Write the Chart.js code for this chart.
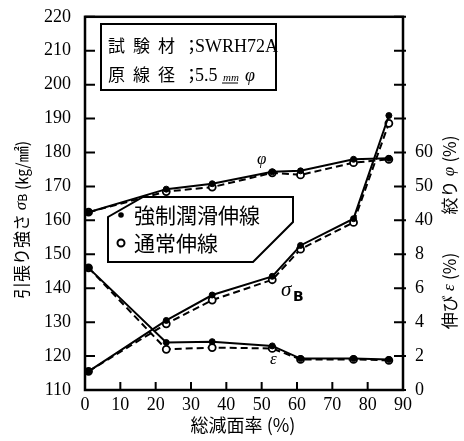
<!DOCTYPE html>
<html>
<head>
<meta charset="utf-8">
<script src="https://cdn.jsdelivr.net/npm/chart.js@4.4.1/dist/chart.umd.min.js"></script>
<style>
  html, body { margin: 0; padding: 0; background: #fff; }
</style>
</head>
<body>
<canvas id="chart" width="464" height="441"></canvas>
<script>
// values (total reduction of area, %)
const reduction = [1, 23, 36, 53, 61, 76, 86];
// tensile strength sigma_B (kg/mm2)
const sigmaForced = [115.5, 130.5, 138, 143.5, 152.6, 160.5, 190.9];
const sigmaNormal = [115.5, 129.5, 136.5, 142.5, 151.5, 159.4, 188.6];
// reduction of area phi (%)
const phiForced = [42.4, 49.2, 50.8, 54.3, 54.6, 58, 58.3];
const phiNormal = [42.4, 48.5, 49.8, 54, 53.4, 57, 58];
// elongation epsilon (%)
const epsForced = [7.2, 2.8, 2.85, 2.6, 1.85, 1.85, 1.8];
const epsNormal = [7.2, 2.4, 2.5, 2.45, 1.8, 1.8, 1.75];

// right axis: same grid as the left one, labels for eps (0..8) and phi (40..60)
const rightTickLabels = { 110: '0', 120: '2', 130: '4', 140: '6', 150: '8', 160: '40', 170: '50', 180: '60' };

const CJK = '"Noto Sans CJK JP", "Noto Sans", sans-serif';
const SERIF = '"Liberation Serif", "DejaVu Serif", serif';

function pts(xs, ys) {
  return xs.map((x, i) => ({ x: x, y: ys[i] }));
}

function solid(data, axis) {
  return {
    data: pts(reduction, data), yAxisID: axis,
    borderColor: '#000', borderWidth: 2, pointRadius: 3,
    pointBackgroundColor: '#000', pointBorderColor: '#000', pointBorderWidth: 1,
    tension: 0
  };
}
function dashed(data, axis) {
  return {
    data: pts(reduction, data), yAxisID: axis,
    borderColor: '#000', borderWidth: 2, borderDash: [7, 4], pointRadius: 3.5,
    pointBackgroundColor: '#fff', pointBorderColor: '#000', pointBorderWidth: 1.8,
    tension: 0
  };
}

// draws text pieces one after another, centred on (x, y)
function runs(ctx, parts, x, y) {
  let total = 0;
  parts.forEach(p => { ctx.font = p.font; p.w = ctx.measureText(p.t).width; total += p.w; });
  let cx = x - total / 2;
  ctx.textAlign = 'left';
  ctx.textBaseline = 'middle';
  parts.forEach(p => { ctx.font = p.font; ctx.fillText(p.t, cx, y + (p.dy || 0)); cx += p.w; });
}

const decor = {
  id: 'decor',
  afterDraw(chart) {
    const ctx = chart.ctx;
    const a = chart.chartArea;
    const sx = chart.scales.x, sy = chart.scales.y, sr = chart.scales.yR;
    ctx.save();
    ctx.strokeStyle = '#000';
    ctx.fillStyle = '#000';

    // frame
    ctx.lineWidth = 2.5;
    ctx.strokeRect(a.left, a.top, a.right - a.left, a.bottom - a.top);

    // inward ticks
    ctx.lineWidth = 2;
    ctx.beginPath();
    sy.ticks.forEach(t => {
      const p = sy.getPixelForValue(t.value);
      ctx.moveTo(a.left, p); ctx.lineTo(a.left + 10, p);
    });
    sr.ticks.forEach(t => {
      const p = sr.getPixelForValue(t.value);
      ctx.moveTo(a.right - 9, p); ctx.lineTo(a.right + 3, p);
    });
    sx.ticks.forEach(t => {
      const p = sx.getPixelForValue(t.value);
      ctx.moveTo(p, a.bottom); ctx.lineTo(p, a.bottom - 8);
    });
    ctx.stroke();

    // specimen box
    ctx.lineWidth = 2;
    ctx.strokeRect(101, 24, 175, 66);
    ctx.textBaseline = 'middle';
    ctx.textAlign = 'left';
    ctx.font = '17px ' + CJK;
    ['試', '験', '材', '；'].forEach((c, i) => ctx.fillText(c, 108 + i * 25, 46));
    ['原', '線', '径', '；'].forEach((c, i) => ctx.fillText(c, 108 + i * 25, 75));
    ctx.font = '18px ' + SERIF;
    ctx.fillText('SWRH72A', 195, 47);
    ctx.fillText('5.5', 195, 76);
    ctx.font = 'italic 11px ' + SERIF;
    ctx.fillText('mm', 223, 78);
    ctx.lineWidth = 1;
    ctx.beginPath(); ctx.moveTo(222, 83); ctx.lineTo(238, 83); ctx.stroke();
    ctx.font = 'italic 18px ' + SERIF;
    ctx.fillText('φ', 245, 76);

    // legend box
    ctx.lineWidth = 2;
    ctx.beginPath();
    ctx.moveTo(143, 197); ctx.lineTo(293, 197); ctx.lineTo(293, 222);
    ctx.lineTo(253, 262); ctx.lineTo(108, 262); ctx.lineTo(108, 217);
    ctx.closePath();
    ctx.fillStyle = '#fff';
    ctx.fill();
    ctx.stroke();
    ctx.fillStyle = '#000';
    ctx.beginPath(); ctx.arc(121, 215, 2.8, 0, Math.PI * 2); ctx.fill();
    ctx.beginPath(); ctx.arc(121, 243, 3.5, 0, Math.PI * 2); ctx.stroke();
    ctx.font = '21px ' + CJK;
    ctx.fillText('強制潤滑伸線', 134, 215);
    ctx.fillText('通常伸線', 134, 243);

    // curve names
    ctx.font = 'italic 17px ' + SERIF;
    ctx.fillText('φ', 257, 160);
    ctx.fillText('ε', 270, 360);
    ctx.font = 'italic 21px ' + SERIF;
    ctx.fillText('σ', 281, 290);
    ctx.font = 'bold 14px "DejaVu Sans", sans-serif';
    ctx.fillText('B', 293, 297);

    // axis titles
    ctx.save();
    ctx.translate(22, 220);
    ctx.rotate(-Math.PI / 2);
    runs(ctx, [
      { t: '引張り強さ ', font: '17px ' + CJK },
      { t: 'σ', font: 'italic 17px ' + SERIF },
      { t: 'B', font: '12px "DejaVu Sans", sans-serif', dy: 2 },
      { t: ' (㎏/㎟)', font: '16px ' + CJK }
    ], 0, 0);
    ctx.restore();

    ctx.save();
    ctx.translate(450, 175);
    ctx.rotate(-Math.PI / 2);
    runs(ctx, [
      { t: '絞り', font: '17px ' + CJK },
      { t: ' φ ', font: 'italic 17px ' + SERIF },
      { t: '(%)', font: '17px ' + CJK }
    ], 0, 0);
    ctx.restore();

    ctx.save();
    ctx.translate(450, 291);
    ctx.rotate(-Math.PI / 2);
    runs(ctx, [
      { t: '伸び', font: '17px ' + CJK },
      { t: ' ε ', font: 'italic 17px ' + SERIF },
      { t: '(%)', font: '17px ' + CJK }
    ], 0, 0);
    ctx.restore();

    ctx.font = '18px ' + CJK;
    ctx.textAlign = 'center';
    ctx.fillText('総減面率 (%)', 243, 425);

    ctx.restore();
  }
};

const tickFont = { family: SERIF, size: 18 };

new Chart(document.getElementById('chart'), {
  type: 'line',
  data: {
    datasets: [
      solid(sigmaForced, 'y'), dashed(sigmaNormal, 'y'),
      solid(phiForced, 'yPhi'), dashed(phiNormal, 'yPhi'),
      solid(epsForced, 'yEps'), dashed(epsNormal, 'yEps')
    ]
  },
  options: {
    responsive: false,
    animation: false,
    layout: { padding: { top: 15, left: 0, right: 0, bottom: 0 } },
    plugins: { legend: { display: false }, tooltip: { enabled: false } },
    scales: {
      x: {
        type: 'linear', min: 0, max: 90,
        ticks: { stepSize: 10, color: '#000', font: tickFont, padding: -4, maxRotation: 0 },
        grid: { display: false }, border: { display: false },
        afterFit(s) { s.height = 51; }
      },
      y: {
        position: 'left', min: 110, max: 220,
        ticks: { stepSize: 10, color: '#000', font: tickFont, padding: 6 },
        grid: { display: false }, border: { display: false },
        afterFit(s) { s.width = 85; }
      },
      yR: {
        position: 'right', min: 110, max: 220,
        ticks: {
          stepSize: 10, color: '#000', font: tickFont, padding: 4,
          callback: v => rightTickLabels[v] || ''
        },
        grid: { display: false }, border: { display: false },
        afterFit(s) { s.width = 61; }
      },
      yPhi: { display: false, min: -10, max: 100 },
      yEps: { display: false, min: 0, max: 22 }
    }
  },
  plugins: [decor]
});
</script>
</body>
</html>
